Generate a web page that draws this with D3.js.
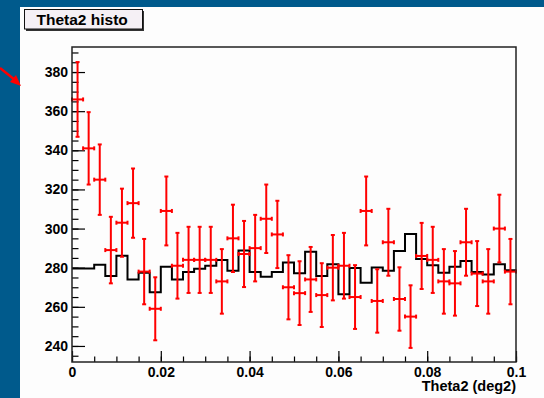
<!DOCTYPE html>
<html>
<head>
<meta charset="utf-8">
<script src="https://cdn.jsdelivr.net/npm/d3@7"></script>
<style>
  html, body { margin: 0; padding: 0; background: #005a8c; }
  svg { display: block; }
  text { font-family: "Liberation Sans", Arial, Helvetica, sans-serif; font-weight: bold; }
</style>
</head>
<body>
<div id="chart"></div>
<script>
// histogram data, 40 bins over [0, 0.1]
const binWidth = 0.0025;
const dataCounts = [366, 341, 325, 289, 303, 313, 278, 259, 309, 281,
                    284, 284, 284, 273, 295, 287, 290, 305, 297, 270,
                    267, 274, 266, 280, 281, 265, 309, 263, 293, 264,
                    255, 286, 284, 273, 272, 293, 277, 273, 300, 278];
const dataErrors = [19.1, 18.5, 18.0, 17.0, 17.4, 17.7, 16.7, 16.1, 17.6, 16.8,
                    16.9, 16.9, 16.9, 16.5, 17.2, 16.9, 17.0, 17.5, 17.2, 16.4,
                    16.3, 16.6, 16.3, 16.7, 16.8, 16.3, 17.6, 16.2, 17.1, 16.2,
                    16.0, 16.9, 16.9, 16.5, 16.5, 17.1, 16.6, 16.5, 17.3, 16.7];
const refCounts = [279.6, 279.6, 281.5, 275.7, 286.1, 274.0, 277.4, 267.5, 280.5, 274.0,
                   277.8, 279.4, 281.0, 283.9, 278.4, 288.8, 277.8, 275.4, 277.8, 282.7,
                   277.1, 288.1, 275.7, 281.7, 266.4, 279.8, 272.3, 280.1, 278.4, 288.5,
                   297.2, 284.5, 281.3, 277.4, 280.5, 283.4, 277.8, 276.5, 281.7, 278.7];
const xTicks = [0, 0.02, 0.04, 0.06, 0.08, 0.1];
const xTickLabels = ["0", "0.02", "0.04", "0.06", "0.08", "0.1"];
const yTicks = [240, 260, 280, 300, 320, 340, 360, 380];
const histTitle = "Theta2 histo";
const xTitle = "Theta2 (deg2)";

const W = 544, H = 398;
const frame = { left: 72, right: 516, top: 47, bottom: 362 };

const svg = d3.select("#chart").append("svg")
    .attr("width", W)
    .attr("height", H);

// slide background + white pad
svg.append("rect").attr("width", W).attr("height", H).attr("fill", "#005a8c");
svg.append("rect").attr("x", 20).attr("y", 7).attr("width", W - 20).attr("height", H - 7).attr("fill", "#fdfdfd");

// red arrow on the slide
svg.append("line")
    .attr("x1", 0).attr("y1", 68).attr("x2", 15).attr("y2", 80)
    .attr("stroke", "#ff0000").attr("stroke-width", 2.5);
svg.append("path")
    .attr("d", "M21,86 L10,82 L16,75 Z")
    .attr("fill", "#ff0000");

const x = d3.scaleLinear().domain([0, 0.1]).range([frame.left, frame.right]);
const y = d3.scaleLinear().domain([231.8, 392.8]).range([frame.bottom, frame.top]);

// minor ticks
svg.append("g")
    .attr("transform", `translate(${frame.left},0)`)
    .call(d3.axisLeft(y).tickValues(d3.range(235, 392, 5)).tickSize(-6.5).tickFormat(""))
    .call(g => g.select(".domain").remove());
svg.append("g")
    .attr("transform", `translate(0,${frame.bottom})`)
    .call(d3.axisBottom(x).tickValues(d3.range(0, 21).map(i => i * 0.005)).tickSize(-5.5).tickFormat(""))
    .call(g => g.select(".domain").remove());

// major ticks + labels
const yAxis = svg.append("g")
    .attr("transform", `translate(${frame.left},0)`)
    .call(d3.axisLeft(y).tickValues(yTicks).tickSize(-13).tickPadding(4).tickFormat(d3.format("d")));
yAxis.select(".domain").remove();
yAxis.selectAll("text").attr("font-size", 14).attr("font-family", null).attr("fill", "#000");

const xAxis = svg.append("g")
    .attr("transform", `translate(0,${frame.bottom})`)
    .call(d3.axisBottom(x).tickValues(xTicks).tickSize(-11).tickPadding(5)
        .tickFormat((d, i) => xTickLabels[i]));
xAxis.select(".domain").remove();
xAxis.selectAll("text").attr("font-size", 14).attr("font-family", null).attr("fill", "#000");

svg.selectAll(".tick line").attr("stroke", "#000").attr("stroke-width", 1.2);

// reference histogram (black step line)
const stepPts = refCounts.map((v, i) => [i * binWidth, v]);
stepPts.push([refCounts.length * binWidth, refCounts[refCounts.length - 1]]);
svg.append("path")
    .datum(stepPts)
    .attr("fill", "none")
    .attr("stroke", "#000")
    .attr("stroke-width", 2)
    .attr("d", d3.line()
        .x(d => x(d[0]))
        .y(d => y(d[1]))
        .curve(d3.curveStepAfter));

// data points with error bars (red)
const bars = svg.append("g")
    .attr("stroke", "#ff0000")
    .attr("stroke-width", 2)
    .selectAll("g")
    .data(dataCounts.map((v, i) => ({ lo: i * binWidth, hi: (i + 1) * binWidth, mid: (i + 0.5) * binWidth, v: v, e: dataErrors[i] })))
    .join("g");

bars.append("line")
    .attr("x1", d => x(d.mid)).attr("x2", d => x(d.mid))
    .attr("y1", d => y(d.v - d.e)).attr("y2", d => y(d.v + d.e));
bars.append("line")
    .attr("x1", d => x(d.lo)).attr("x2", d => x(d.hi))
    .attr("y1", d => y(d.v)).attr("y2", d => y(d.v));
// caps
bars.append("line")
    .attr("x1", d => x(d.mid) - 2).attr("x2", d => x(d.mid) + 2)
    .attr("y1", d => y(d.v + d.e)).attr("y2", d => y(d.v + d.e));
bars.append("line")
    .attr("x1", d => x(d.mid) - 2).attr("x2", d => x(d.mid) + 2)
    .attr("y1", d => y(d.v - d.e)).attr("y2", d => y(d.v - d.e));
bars.append("line")
    .attr("x1", d => x(d.lo)).attr("x2", d => x(d.lo))
    .attr("y1", d => y(d.v) - 2).attr("y2", d => y(d.v) + 2);
bars.append("line")
    .attr("x1", d => x(d.hi)).attr("x2", d => x(d.hi))
    .attr("y1", d => y(d.v) - 2).attr("y2", d => y(d.v) + 2);

// frame
svg.append("rect")
    .attr("x", frame.left).attr("y", frame.top)
    .attr("width", frame.right - frame.left).attr("height", frame.bottom - frame.top)
    .attr("fill", "none").attr("stroke", "#222").attr("stroke-width", 1.5);

// x axis title
svg.append("text")
    .attr("x", frame.right).attr("y", 391)
    .attr("text-anchor", "end")
    .attr("font-size", 14.5)
    .text(xTitle);

// title box
svg.append("rect")
    .attr("x", 26).attr("y", 11).attr("width", 118).attr("height", 20)
    .attr("fill", "#333");
svg.append("rect")
    .attr("x", 24.5).attr("y", 9.5).attr("width", 118).attr("height", 19.5)
    .attr("fill", "#f5f0f5").attr("stroke", "#111").attr("stroke-width", 1);
svg.append("text")
    .attr("x", 36.5).attr("y", 25)
    .attr("font-size", 15.5)
    .text(histTitle);
</script>
</body>
</html>
